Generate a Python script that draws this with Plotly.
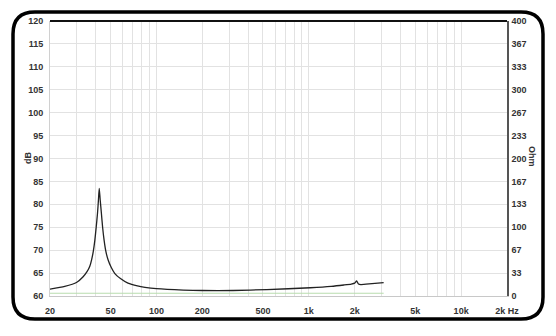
import plotly.graph_objects as go

# ---- data ----
freq_hz = [20, 25, 30, 33, 35, 36.5, 37.5, 38.5, 39.4, 40.2, 41, 41.6, 42.1, 42.7, 43.5,
           44.3, 45.3, 46.5, 48.1, 50.5, 53.3, 58, 65, 75, 84, 100, 150, 200, 318, 530,
           1024, 1400, 1700, 1900, 2000, 2060, 2120, 2200, 2600, 3100]
spl_db = [61.5, 62.1, 63.0, 64.2, 65.3, 66.5, 67.9, 69.8, 72.2, 75.0, 78.0, 81.0, 83.5, 81.0,
          78.0, 75.0, 72.2, 69.8, 67.9, 66.2, 64.9, 63.8, 62.8, 62.2, 61.9, 61.6, 61.3, 61.2,
          61.2, 61.4, 61.8, 62.1, 62.4, 62.6, 62.8, 63.3, 62.6, 62.5, 62.7, 62.9]
green_freq = [20, 3100]
green_db = [60.6, 60.6]

x_tickvals = [20, 50, 100, 200, 500, 1000, 2000, 5000, 10000, 20000]
x_ticktext = ["20", "50", "100", "200", "500", "1k", "2k", "5k", "10k", "2k Hz"]
x_minor = [20, 30, 40, 50, 60, 70, 80, 90, 100, 200, 300, 400, 500, 600, 700, 800, 900,
           1000, 2000, 3000, 4000, 5000, 6000, 7000, 8000, 9000, 10000, 20000]
y_tickvals = [60, 65, 70, 75, 80, 85, 90, 95, 100, 105, 110, 115, 120]
y2_tickvals = [0, 33.33, 66.67, 100, 133.33, 166.67, 200, 233.33, 266.67, 300, 333.33, 366.67, 400]
y2_ticktext = ["0", "33", "67", "100", "133", "167", "200", "233", "267", "300", "333", "367", "400"]

W, H = 556, 336
L, R, T, B = 50, 507, 21, 296

def px(x):
    return (x - L) / (R - L)

def py(y):
    return (B - y) / (B - T)

fig = go.Figure()
fig.add_trace(go.Scatter(x=green_freq, y=green_db, mode="lines",
                         line=dict(color="#b8dcae", width=1.2), hoverinfo="skip", showlegend=False))
fig.add_trace(go.Scatter(x=freq_hz, y=spl_db, mode="lines",
                         line=dict(color="#222222", width=1.3, shape="spline", smoothing=0.6),
                         showlegend=False))
fig.add_trace(go.Scatter(x=[20], y=[0], yaxis="y2", mode="markers",
                         marker=dict(opacity=0), hoverinfo="skip", showlegend=False))

tick_font = dict(family="Liberation Sans, Arial, sans-serif", size=9, color="#333333",
                 weight="bold")

fig.update_layout(
    width=W, height=H,
    margin=dict(l=L, r=W - R, t=T, b=H - B),
    paper_bgcolor="white", plot_bgcolor="white",
    xaxis=dict(type="log", range=[1.30103, 4.30103], tickvals=x_tickvals, ticktext=x_ticktext,
               showgrid=True, gridcolor="#e2e2e2", gridwidth=1,
               minor=dict(tickvals=x_minor, showgrid=True, gridcolor="#e2e2e2", gridwidth=1),
               tickfont=tick_font, ticks="", ticklabelstandoff=6,
               showline=True, linecolor="#c8c8c8", linewidth=1, zeroline=False),
    yaxis=dict(range=[60, 120], tickvals=y_tickvals, showgrid=True, gridcolor="#e2e2e2",
               tickfont=tick_font, ticks="", ticklabelstandoff=4,
               showline=True, linecolor="#d0d0d0", linewidth=1, zeroline=False),
    yaxis2=dict(range=[0, 400], overlaying="y", side="right", tickvals=y2_tickvals,
                ticktext=y2_ticktext, showgrid=False, tickfont=tick_font, ticks="",
                ticklabelstandoff=1, showline=True, linecolor="#555555", linewidth=1.5,
                zeroline=False),
)

title_font = dict(family="Liberation Sans, Arial, sans-serif", size=9, color="#333333")
fig.add_annotation(x=px(28), y=py(158), xref="paper", yref="paper", text="<b>dB</b>",
                   textangle=-90, showarrow=False, xanchor="center", yanchor="middle",
                   font=title_font)
fig.add_annotation(x=px(532), y=py(156), xref="paper", yref="paper", text="<b>Ohm</b>",
                   textangle=90, showarrow=False, xanchor="center", yanchor="middle",
                   font=title_font)

# top axis dark line
fig.add_shape(type="line", xref="paper", yref="paper", x0=0, x1=1, y0=1, y1=1,
              line=dict(color="#111111", width=2))

# rounded frame
x0, x1, y0, y1, r = 13, 543, 12, 319, 22
path = (f"M {px(x0 + r)} {py(y0)} L {px(x1 - r)} {py(y0)} "
        f"Q {px(x1)} {py(y0)} {px(x1)} {py(y0 + r)} "
        f"L {px(x1)} {py(y1 - r)} Q {px(x1)} {py(y1)} {px(x1 - r)} {py(y1)} "
        f"L {px(x0 + r)} {py(y1)} Q {px(x0)} {py(y1)} {px(x0)} {py(y1 - r)} "
        f"L {px(x0)} {py(y0 + r)} Q {px(x0)} {py(y0)} {px(x0 + r)} {py(y0)} Z")
fig.add_shape(type="path", xref="paper", yref="paper", path=path,
              line=dict(color="#000000", width=3.5))

fig.write_html("out.html")
